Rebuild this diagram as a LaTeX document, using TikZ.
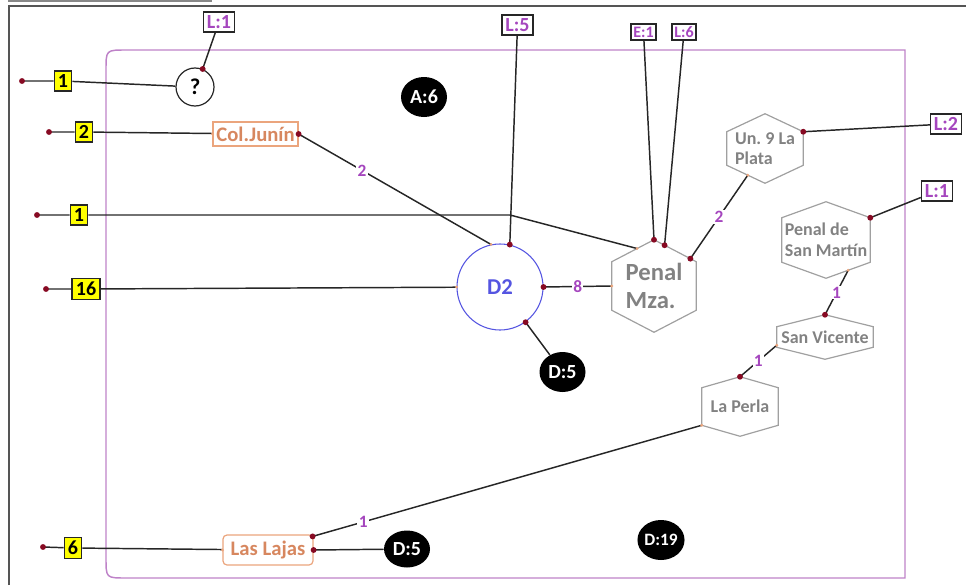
\documentclass[tikz,border=0pt]{standalone}
\usepackage{fontspec}
\setmainfont{Carlito}
\usetikzlibrary{calc,shapes.geometric}
\definecolor{lblpurple}{RGB}{165,70,190}
\definecolor{boxpurple}{RGB}{190,130,200}
\definecolor{dotred}{RGB}{135,10,35}
\definecolor{orangeb}{RGB}{235,165,125}
\definecolor{orangetxt}{RGB}{215,135,95}
\definecolor{hexgray}{RGB}{160,160,160}
\definecolor{hextxt}{RGB}{130,130,130}
\definecolor{d2blue}{RGB}{85,85,225}
\definecolor{yellowf}{RGB}{255,255,0}
\definecolor{framegray}{RGB}{85,85,85}
\tikzset{
  conn/.style={draw=black!85, line width=1.1pt},
  ybox/.style={draw=black!85, fill=yellowf, line width=1pt, inner xsep=2.8pt, inner ysep=2.6pt, font=\fontsize{15}{17}\selectfont\bfseries},
  lbox/.style={draw=black!85, fill=white, text=lblpurple, line width=1.2pt, inner xsep=2.5pt, inner ysep=2.6pt, font=\fontsize{15}{17}\selectfont\bfseries},
  sbox/.style={lbox, inner xsep=1.8pt, inner ysep=2pt, font=\fontsize{12}{14}\selectfont\bfseries},
  blk/.style={ellipse, fill=black, text=white, minimum width=46*0.75pt, minimum height=40*0.75pt, inner sep=0pt, font=\fontsize{15}{17}\selectfont\bfseries},
  orect/.style={draw=orangeb, text=orangetxt, fill=white, line width=0.9pt, inner sep=0pt, font=\fontsize{15.5}{17}\selectfont\bfseries},
  hexnode/.style={inner sep=0pt, text=hextxt, align=left, font=\fontsize{13.5}{15.5}\selectfont\bfseries},
  hexline/.style={draw=hexgray, line width=0.9pt},
  elbl/.style={text=lblpurple, fill=white, inner sep=1pt, font=\fontsize{13}{15}\selectfont\bfseries},
}
\newcommand{\hexa}[2]{%
  \coordinate (#1-ur) at ($(#1.north east)+(0,#2)$);
  \coordinate (#1-lr) at ($(#1.south east)+(0,-#2)$);
  \coordinate (#1-ll) at ($(#1.south west)+(0,-#2)$);
  \coordinate (#1-ul) at ($(#1.north west)+(0,#2)$);
  \draw[hexline] (#1.north) -- (#1-ur) -- (#1-lr) -- (#1.south) -- (#1-ll) -- (#1-ul) -- cycle;}
\newcommand{\rdot}[1]{\fill[dotred] #1 circle[radius=2.2pt];}
\newcommand{\omark}[1]{\fill[orangeb] #1 circle[radius=1.2pt];}
\begin{document}
\begin{tikzpicture}[x=0.75pt,y=-0.75pt]
\useasboundingbox (0,0) rectangle (966,585);
% window frame
\draw[framegray!70, line width=1.2pt] (8,1) -- (212,1);
\draw[framegray, line width=1.5pt] (9,585) -- (9,6) -- (966,6);
% purple container
\draw[boxpurple, line width=1.1pt] (905,50) -- (126,50) .. controls (106,50) .. (106,70) -- (106,558) .. controls (106,578) .. (126,578) -- (905,578) -- cycle;

% free ends on the left
\coordinate (d1) at (22,81);
\coordinate (d2) at (49,132);
\coordinate (d3) at (37,215);
\coordinate (d4) at (46,289);
\coordinate (d5) at (43,547);
\coordinate (bend) at (510,215);

% nodes
\node[ybox] (y1) at (63,81) {1};
\node[ybox] (y2) at (84,132) {2};
\node[ybox] (y3) at (79,215) {1};
\node[ybox] (y4) at (86,289) {16};
\node[ybox] (y5) at (73,548) {6};

\node[circle, draw=black!85, fill=white, line width=0.9pt, minimum size=38*0.75pt, inner sep=0pt, font=\fontsize{17}{19}\selectfont\bfseries] (q) at (195,87) {?};
\node[lbox] (L1a) at (219,22) {L:1};
\node[orect, minimum width=85*0.75pt, minimum height=24*0.75pt] (cj) at (255.5,134) {Col.Junín};
\node[lbox] (L5) at (517.5,25) {L:5};
\node[sbox] (E1) at (643.5,32) {E:1};
\node[sbox] (L6) at (684,32) {L:6};
\node[lbox] (L2) at (946,124) {L:2};
\node[lbox] (L1b) at (937,191) {L:1};

\node[blk] (A6) at (424,97) {A:6};
\node[circle, draw=d2blue, line width=0.8pt, fill=white, minimum size=86*0.75pt, inner sep=0pt, text=d2blue, font=\fontsize{17}{19}\selectfont\bfseries] (D2) at (500,287) {D2};
\node[blk] (D5a) at (562.5,372) {D:5};

\node[hexnode, minimum width=84*0.75pt, minimum height=92*0.75pt, font=\fontsize{18.5}{21}\selectfont\bfseries] (pm) at (654,286) {Penal\\Mza.};
\hexa{pm}{22}
\node[hexnode, minimum width=76*0.75pt, minimum height=69*0.75pt] (un9) at (765,148.5) {Un.~9 La\\Plata};
\hexa{un9}{18}
\node[hexnode, minimum width=88*0.75pt, minimum height=76*0.75pt] (sm) at (826,240) {Penal de\\San Martín};
\hexa{sm}{16}
\node[hexnode, minimum width=96*0.75pt, minimum height=44*0.75pt] (sv) at (825,337) {San Vicente};
\hexa{sv}{12}
\node[hexnode, minimum width=76*0.75pt, minimum height=59*0.75pt] (lp) at (740,406.5) {La Perla};
\hexa{lp}{11}

\node[orect, rounded corners=3pt, minimum width=90*0.75pt, minimum height=30*0.75pt] (ll) at (268,550) {Las Lajas};
\node[blk, minimum height=37*0.75pt] (D5b) at (407,549) {D:5};
\node[blk, font=\fontsize{13}{15}\selectfont\bfseries] (D19) at (661,540) {D:19};

% connector points on hexagons
\coordinate (pmY) at ($(pm.north)!0.4!(pm-ul)$);
\coordinate (pmL6) at ($(pm.north)!0.25!(pm-ur)$);
\coordinate (pmU) at ($(pm.north)!0.86!(pm-ur)$);
\coordinate (un9P) at ($(un9.south)!0.45!(un9-ll)$);
\coordinate (smB) at ($(sm.south)!0.5!(sm-lr)$);
\coordinate (svL) at ($(sv.west)!0.8!(sv-ll)$);
\coordinate (llT) at ($(ll.north east)+(-1,2)$);

% connectors
\draw[conn] (d1) -- (y1) -- (q);
\draw[conn] (q.67) -- (L1a);
\draw[conn] (d2) -- (y2) -- (cj);
\draw[conn] (d3) -- (y3) -- (bend) -- (pmY);
\draw[conn] (d4) -- (y4) -- (D2);
\draw[conn] (d5) -- (y5) -- (ll);
\draw[conn] (cj.east) -- node[elbl, pos=0.33] {2} (D2.102);
\draw[conn] (D2.77) -- (L5);
\draw[conn] (pm.north) -- (E1);
\draw[conn] (pmL6) -- (L6);
\draw[conn] (D2.east) -- node[elbl] {8} (pm.west);
\draw[conn] (D2.-54) -- (D5a);
\draw[conn] (pmU) -- node[elbl] {2} (un9P);
\draw[conn] (un9-ur) -- (L2);
\draw[conn] (sm-ur) -- (L1b);
\draw[conn] (sv.north) -- node[elbl] {1} (smB);
\draw[conn] (lp.north) -- node[elbl] {1} (svL);
\draw[conn] (llT) -- node[elbl, pos=0.13] {1} (lp-ll);
\draw[conn] (ll.east) -- (D5b);

% dots
\rdot{(d1)} \rdot{(d2)} \rdot{(d3)} \rdot{(d4)} \rdot{(d5)}
\rdot{(q.67)} \rdot{(cj.east)} \rdot{(D2.77)} \rdot{(pm.north)} \rdot{(pmL6)}
\rdot{(pmU)} \rdot{(D2.east)} \rdot{(D2.-54)} \rdot{(un9-ur)} \rdot{(sm-ur)}
\rdot{(sv.north)} \rdot{(lp.north)} \rdot{(llT)} \rdot{(ll.east)}
\omark{(cj.west)} \omark{(D2.102)} \omark{(pmY)} \omark{(D2.west)} \omark{(pm.west)}
\omark{(un9P)} \omark{(smB)} \omark{(svL)} \omark{(lp-ll)} \omark{(ll.west)}
\end{tikzpicture}
\end{document}
